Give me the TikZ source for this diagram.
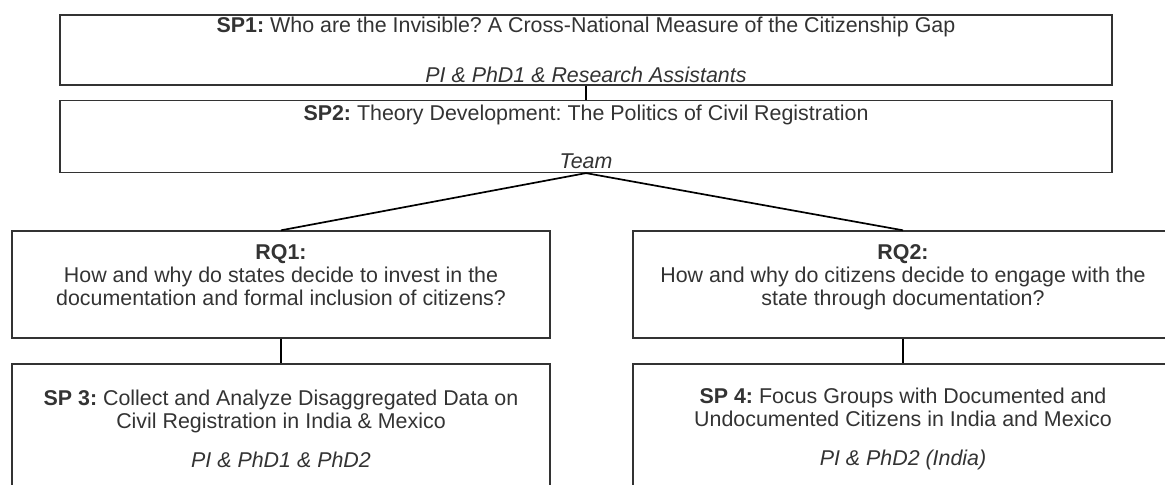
\documentclass[tikz,border=0pt]{standalone}
\usepackage{fontspec}
\setmainfont{Liberation Sans}
\usepackage{tikz}
\usetikzlibrary{positioning}

\tikzset{
  box/.style={draw=black!80, line width=0.7pt, align=center, text=black!80, inner sep=1pt,
    font=\fontsize{10.7}{11.35}\selectfont\frenchspacing},
  link/.style={line width=0.85pt, black}
}

\begin{document}
\begin{tikzpicture}[x=0.5pt,y=-0.5pt]
  \useasboundingbox (0,0) rectangle (1165,484);
  \clip (0,0) rectangle (1165,484);

  % Overarching sub-projects
  \node[box, minimum width=526pt, minimum height=35pt] (sp1) at (586,50)
    {\textbf{SP1:} Who are the Invisible? A Cross-National Measure of the Citizenship Gap\\[13.65pt]
     \textit{PI \& PhD1 \& Research Assistants}};
  \node[box, minimum width=526pt, minimum height=36pt, below=7pt of sp1] (sp2)
    {\textbf{SP2:} Theory Development: The Politics of Civil Registration\\[12.65pt]
     \textit{Team}};

  % Research questions
  \node[box, minimum width=269pt, minimum height=53.5pt] (rq1) at (281,284.5)
    {\textbf{RQ1:}\\How and why do states decide to invest in the\\
     documentation and formal inclusion of citizens?\\[-2pt]\mbox{}};
  \node[box, minimum width=270pt, minimum height=53.5pt] (rq2) at (903,284.5)
    {\textbf{RQ2:}\\How and why do citizens decide to engage with the\\
     state through documentation?\\[-2pt]\mbox{}};

  % Empirical sub-projects
  \node[box, minimum width=269pt, minimum height=64.8pt, below=12.35pt of rq1] (sp3)
    {\textbf{SP 3:} Collect and Analyze Disaggregated Data on\\
     Civil Registration in India \& Mexico\\[8.15pt]
     \textit{PI \& PhD1 \& PhD2}};
  \node[box, minimum width=270pt, minimum height=64.8pt, below=12.35pt of rq2] (sp4)
    {\textbf{SP 4:} Focus Groups with Documented and\\
     Undocumented Citizens in India and Mexico\\[8.15pt]
     \textit{PI \& PhD2 (India)}};

  % Connectors
  \draw[link] (sp1.south) -- (sp2.north);
  \draw[link] (sp2.south) -- (rq1.north);
  \draw[link] (sp2.south) -- (rq2.north);
  \draw[link] (rq1.south) -- (sp3.north);
  \draw[link] (rq2.south) -- (sp4.north);
\end{tikzpicture}
\end{document}
